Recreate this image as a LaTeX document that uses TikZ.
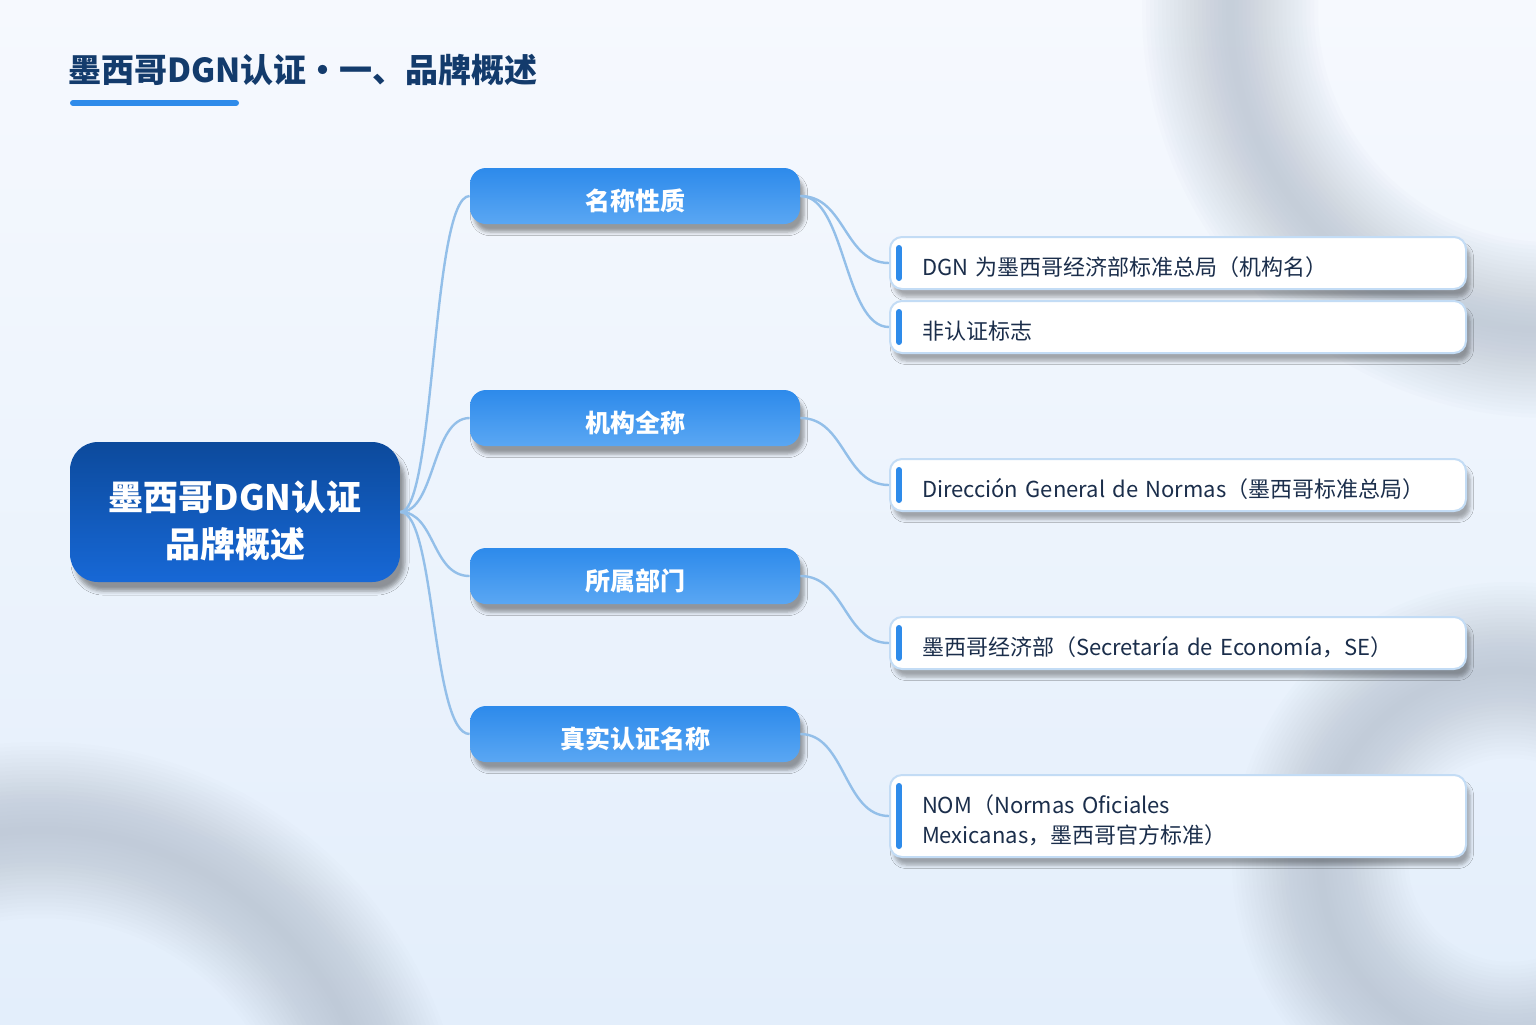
\documentclass[tikz,border=0pt]{standalone}
\usepackage{fontspec}
\setmainfont{Noto Sans CJK SC}
\usetikzlibrary{shadows.blur,calc}
\definecolor{bgtop}{HTML}{F6F9FE}
\definecolor{bgbot}{HTML}{E3EEFB}
\definecolor{ringc}{HTML}{A9B4C3}
\definecolor{titleC}{HTML}{133B6C}
\definecolor{accent}{HTML}{2E8BEA}
\definecolor{rootTop}{HTML}{0C4A9C}
\definecolor{rootBot}{HTML}{1768D6}
\definecolor{catTop}{HTML}{2D8AEB}
\definecolor{catBot}{HTML}{5AA7F3}
\definecolor{leafBorder}{HTML}{C3DCF5}
\definecolor{leafText}{HTML}{1B2E4B}
\definecolor{connC}{HTML}{93BFE9}
\tikzset{
  rootbox/.style={rounded corners=14pt, minimum width=165pt, minimum height=70pt,
    top color=rootTop, bottom color=rootBot, text=white, align=center,
    font=\bfseries\fontsize{17.5}{23.5}\selectfont,
    blur shadow={shadow xshift=2.5pt, shadow yshift=-4.5pt, shadow blur radius=2pt, shadow opacity=40}},
  catbox/.style={rounded corners=8pt, minimum width=165pt, minimum height=28pt,
    top color=catTop, bottom color=catBot, text=white, align=center,
    font=\bfseries\fontsize{12.5}{15}\selectfont,
    blur shadow={shadow xshift=2pt, shadow yshift=-4pt, shadow blur radius=1.8pt, shadow opacity=38}},
  leafbox/.style={rounded corners=6pt, text width=256pt, inner xsep=16pt, inner ysep=0pt,
    minimum height=26pt, align=left, fill=white, draw=leafBorder, line width=1pt,
    text=leafText, font=\fontsize{11}{15}\selectfont,
    blur shadow={shadow xshift=2pt, shadow yshift=-4pt, shadow blur radius=1.8pt, shadow opacity=32}},
  conn/.style={draw=connC, line width=1.2pt},
  bar/.style={draw=accent, line width=3pt, line cap=round},
  ring/.style={draw=ringc, opacity=0.032}
}
\newcommand{\lfstrut}{\rule{0pt}{13.6pt}}
\newcommand{\ctstrut}{\rule{0pt}{16pt}}
\newcommand{\rtstrut}{\rule{0pt}{23.4pt}}
\begin{document}
\begin{tikzpicture}[x=0.5pt,y=-0.5pt]
\useasboundingbox (0,0) rectangle (1536,1024);
\shade[top color=bgtop, bottom color=bgbot] (0,0) rectangle (1536,1024);
\begin{scope}
\clip (0,0) rectangle (1536,1024);
\foreach \w in {4,8,...,88}{
  \draw[ring, line width=\w] (1550,10) circle (320);
  \draw[ring, line width=\w] (40,1170) circle (340);
  \draw[ring, line width=\w] (1510,860) circle (190);
}
\end{scope}

% title
\node[anchor=west, inner sep=0pt, text=titleC, font=\bfseries\fontsize{16.5}{20}\selectfont] (title) at (68,70) {墨西哥DGN认证・一、品牌概述};
\coordinate (ul1) at (73,103);
\coordinate (ul2) at (236,103);
\draw[accent, line width=3pt, line cap=round] (ul1) -- (ul2);

% nodes
\node[rootbox] (root) at (235,512) {\rtstrut 墨西哥DGN认证\\品牌概述};
\node[catbox] (c1) at (635,196) {\ctstrut 名称性质};
\node[catbox] (c2) at (635,418) {\ctstrut 机构全称};
\node[catbox] (c3) at (635,576) {\ctstrut 所属部门};
\node[catbox] (c4) at (635,734) {\ctstrut 真实认证名称};

\node[leafbox] (l1) at (1178,263) {\lfstrut DGN 为墨西哥经济部标准总局（机构名）};
\node[leafbox] (l2) at (1178,327) {\lfstrut 非认证标志};
\node[leafbox] (l3) at (1178,485) {\lfstrut Dirección General de Normas（墨西哥标准总局）};
\node[leafbox] (l4) at (1178,643) {\lfstrut 墨西哥经济部（Secretaría de Economía，SE）};
\node[leafbox, minimum height=41pt] (l5) at (1178,816) {\lfstrut NOM（Normas Oficiales\\Mexicanas，墨西哥官方标准）};

% accent bars
\foreach \n in {l1,l2,l3,l4,l5}{
  \draw[bar] ($(\n.north west)+(10,12)$) -- ($(\n.south west)+(10,-12)$);
}

% connectors
\foreach \c in {c1,c2,c3,c4}{
  \draw[conn] (root.east) .. controls +(35,0) and +(-38,0) .. (\c.west);
}
\draw[conn] (c1.east) .. controls +(45,0) and +(-45,0) .. (l1.west);
\draw[conn] (c1.east) .. controls +(45,0) and +(-45,0) .. (l2.west);
\draw[conn] (c2.east) .. controls +(45,0) and +(-45,0) .. (l3.west);
\draw[conn] (c3.east) .. controls +(45,0) and +(-45,0) .. (l4.west);
\draw[conn] (c4.east) .. controls +(45,0) and +(-45,0) .. (l5.west);
\end{tikzpicture}
\end{document}
